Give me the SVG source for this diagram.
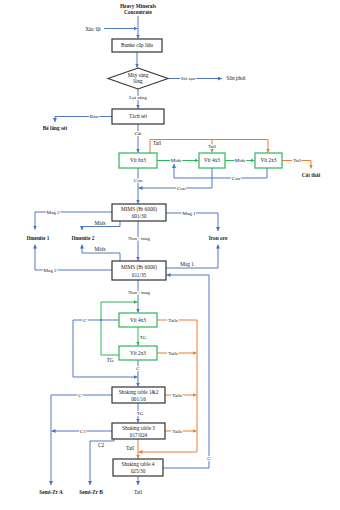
<svg xmlns="http://www.w3.org/2000/svg" width="340" height="510" viewBox="0 0 340 510">
<style>
.t{font-family:"Liberation Serif",serif;font-size:5.3px;text-anchor:middle;fill:#1a1a1a}
.l{font-family:"Liberation Serif",serif;font-size:5px;text-anchor:middle;fill:#1a1a1a;stroke:#fff;stroke-width:2.2;paint-order:stroke}
.b{font-weight:bold}
.box{fill:#fff;stroke:#333;stroke-width:1.2}
.gbox{fill:#fff;stroke:#2DB55D;stroke-width:1.2}
.bl{fill:none;stroke:#4472C4;stroke-width:0.95}
.or{fill:none;stroke:#ED7D31;stroke-width:1}
.gr{fill:none;stroke:#2DB55D;stroke-width:1}
.ab{marker-end:url(#mb)}
.ao{marker-end:url(#mo)}
.ag{marker-end:url(#mg)}
</style>
<defs>
<marker id="mb" markerUnits="userSpaceOnUse" markerWidth="4" markerHeight="4" refX="4" refY="2" orient="auto"><path d="M0,0 L4,2 L0,4 z" fill="#4472C4"/></marker>
<marker id="mo" markerUnits="userSpaceOnUse" markerWidth="4" markerHeight="4" refX="4" refY="2" orient="auto"><path d="M0,0 L4,2 L0,4 z" fill="#ED7D31"/></marker>
<marker id="mg" markerUnits="userSpaceOnUse" markerWidth="4" markerHeight="4" refX="4" refY="2" orient="auto"><path d="M0,0 L4,2 L0,4 z" fill="#2DB55D"/></marker>
</defs>
<rect width="340" height="510" fill="#fff"/>
<g id="connectors">
<path class="bl ab" d="M138 16 V38.5"/>
<path class="bl ab" d="M104 28.5 H137.5"/>
<path class="bl ab" d="M137 52 V67.5"/>
<path class="bl ab" d="M168 78.5 H222"/>
<path class="bl ab" d="M138 89 V108.5"/>
<path class="bl ab" d="M112 116.5 H55 V122"/>
<path class="bl ab" d="M138 124 V152.5"/>
<path class="or ao" d="M150 153 V139.5 H268 V152.5"/>
<path class="or ao" d="M212 139.5 V152.5"/>
<path class="gr ag" d="M157 160.5 H198.5"/>
<path class="gr ag" d="M225 160.5 H254.5"/>
<path class="or ao" d="M282 160.5 H311 V168.5"/>
<path class="bl ab" d="M267 168 V178 H174 V164"/>
<path class="bl ab" d="M212 168 V188 H138.5"/>
<path class="bl ab" d="M138 168 V203.5"/>
<path class="bl ab" d="M112 212 H35 V229.5"/>
<path class="bl ab" d="M120 221 V226.5 H82 V230"/>
<path class="bl ab" d="M166 213 H218 V231"/>
<path class="bl ab" d="M138 221 V260.5"/>
<path class="bl ab" d="M120 261 V253 H82 V244.5"/>
<path class="bl ab" d="M112 270 H35 V244.5"/>
<path class="bl ab" d="M166 268 H218 V244.5"/>
<path class="bl ab" d="M163 468 H209 V275 H166.5"/>
<path class="bl ab" d="M138 280 V312.5"/>
<path class="gr ag" d="M138 327 V345.5"/>
<path class="gr ag" d="M119 355 H101 V302 H137.5"/>
<path class="bl ab" d="M119 320 H73 V377 H137.5"/>
<circle cx="101" cy="320" r="1" fill="#4472C4"/>
<path class="bl ab" d="M138 360 V386.5"/>
<path class="or ao" d="M157 320 H197 V452 H138.5"/>
<path class="or ao" d="M157 353 H196.5"/>
<path class="bl ab" d="M112 395 H51 V485"/>
<path class="or ao" d="M165 395 H196.5"/>
<path class="bl ab" d="M138 403 V422.5"/>
<path class="bl ab" d="M112 431 H51.5"/>
<path class="or ao" d="M165 431 H196.5"/>
<path class="bl ab" d="M114 439 V441 H90 V485"/>
<path class="or ao" d="M138 439 V458.5"/>
<path class="bl ab" d="M138 476 V485"/>
<text class="t" x="93" y="30.5">Xúc lật</text>
<text class="l" x="188" y="80.3">Sỏi sạn</text>
<text class="l" x="138" y="99">Lọt sàng</text>
<text class="l" x="94" y="118.3">Bùn</text>
<text class="l" x="138" y="135">Cát</text>
<text class="t" x="157" y="145">Tail</text>
<text class="l" x="212" y="148">Tail</text>
<text class="l" x="176" y="162.3">Mids</text>
<text class="l" x="240" y="162.3">Mids</text>
<text class="l" x="297" y="162.3">Tail</text>
<text class="l" x="236" y="179.8">Con</text>
<text class="l" x="181" y="189.8">Con</text>
<text class="l" x="138" y="182">Con</text>
<text class="l" x="53" y="213.8">Mag 2</text>
<text class="t" x="100" y="224.5">Mids</text>
<text class="l" x="189" y="214.8">Mag 1</text>
<text class="l" x="139" y="240">Non - mag</text>
<text class="t" x="100" y="250.5">Mids</text>
<text class="l" x="50" y="271.8">Mag 2</text>
<text class="t" x="187" y="266">Mag 1</text>
<text class="l" x="139" y="294">Non - mag</text>
<text class="l" x="143" y="339">TG</text>
<text class="t" x="110" y="362">TG</text>
<text class="l" x="85" y="321.8">C</text>
<text class="l" x="138" y="370">C</text>
<text class="l" x="173" y="321.8">Tails</text>
<text class="l" x="173" y="354.8">Tails</text>
<text class="l" x="80" y="396.8">C</text>
<text class="l" x="177" y="396.8">Tails</text>
<text class="l" x="140" y="415">TG</text>
<text class="l" x="83" y="432.8">C1</text>
<text class="l" x="177" y="432.8">Tails</text>
<text class="t" x="101" y="446.5">C2</text>
<text class="t" x="130" y="449.5">Tail</text>
<text class="l" x="209" y="460">C</text>
</g>
<g id="n-feed"><text class="t b" x="138" y="7.5">Heavy Minerals</text><text class="t b" x="138" y="13.5">Concentrate</text></g>
<g id="n-bunke"><rect class="box" x="112" y="39" width="50" height="13"/><text class="t" x="137" y="47.3">Bunke cấp liệu</text></g>
<g id="n-sang"><polygon points="138,68 168,78.5 138,89 108,78.5" fill="#fff" stroke="#333" stroke-width="1.1"/><text class="t" x="138" y="77">Máy sàng</text><text class="t" x="138" y="83">lồng</text></g>
<g id="n-sanphoi"><text class="t" x="236" y="80.3">Sân phơi</text></g>
<g id="n-tachset"><rect class="box" x="112" y="109" width="52" height="15"/><text class="t" x="138" y="118.3">Tách sét</text></g>
<g id="n-belang"><text class="t b" x="55" y="130">Bể lắng sét</text></g>
<g id="n-vit63"><rect class="gbox" x="119" y="153" width="38" height="15"/><text class="t" x="138" y="162.3">Vít 6x3</text></g>
<g id="n-vit43a"><rect class="gbox" x="199" y="153" width="26" height="15"/><text class="t" x="212" y="162.3">Vít 4x3</text></g>
<g id="n-vit23a"><rect class="gbox" x="255" y="153" width="27" height="15"/><text class="t" x="268.5" y="162.3">Vít 2x3</text></g>
<g id="n-catthai"><text class="t b" x="311" y="176.5">Cát thải</text></g>
<g id="n-mims1"><rect class="box" x="112" y="204" width="54" height="17"/><text class="t" x="139" y="211.3">MIMS (Bt 6000)</text><text class="t" x="139" y="218.3">001/30</text></g>
<g id="n-ilm1"><text class="t b" x="38" y="240">Ilmenite 1</text></g>
<g id="n-ilm2"><text class="t b" x="83" y="240">Ilmenite 2</text></g>
<g id="n-iron"><text class="t b" x="218" y="240">Iron ore</text></g>
<g id="n-mims2"><rect class="box" x="112" y="261" width="54" height="19"/><text class="t" x="139" y="269">MIMS (Bt 6000)</text><text class="t" x="139" y="276.5">011/35</text></g>
<g id="n-vit43b"><rect class="gbox" x="119" y="313" width="38" height="14"/><text class="t" x="138" y="321.8">Vít 4x3</text></g>
<g id="n-vit23b"><rect class="gbox" x="119" y="346" width="38" height="14"/><text class="t" x="138" y="354.8">Vít 2x3</text></g>
<g id="n-st12"><rect class="box" x="112" y="387" width="53" height="16"/><text class="t" x="138.5" y="394">Shaking table 1&amp;2</text><text class="t" x="138.5" y="400.8">001/16</text></g>
<g id="n-st3"><rect class="box" x="112" y="423" width="53" height="16"/><text class="t" x="138.5" y="430">Shaking table 3</text><text class="t" x="138.5" y="436.8">017/024</text></g>
<g id="n-st4"><rect class="box" x="113" y="459" width="50" height="17"/><text class="t" x="138" y="466.3">Shaking table 4</text><text class="t" x="138" y="473.3">025/30</text></g>
<g id="n-semiA"><text class="t b" x="51" y="494">Semi-Zr A</text></g>
<g id="n-semiB"><text class="t b" x="91" y="494">Semi-Zr B</text></g>
<g id="n-tail"><text class="t" x="138" y="494">Tail</text></g>
</svg>
